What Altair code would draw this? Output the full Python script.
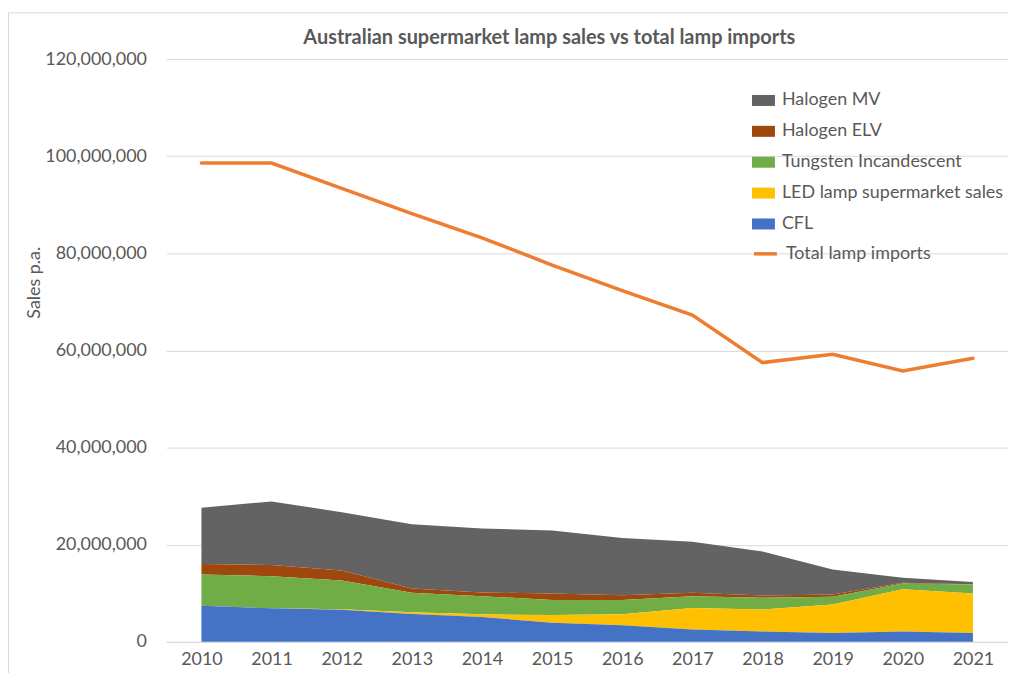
import altair as alt
import pandas as pd

years = list(range(2010, 2022))

# values in millions of lamps
cfl = [7.4, 6.9, 6.6, 5.7, 5.1, 3.9, 3.4, 2.55, 2.1, 1.8, 2.1, 1.8]
led = [0.0, 0.0, 0.1, 0.4, 0.55, 1.6, 2.25, 4.4, 4.55, 5.9, 8.7, 8.15]
tungsten = [6.45, 6.6, 5.9, 4.0, 3.75, 3.1, 2.95, 2.45, 2.4, 1.6, 1.2, 1.85]
halogen_elv = [2.15, 2.3, 2.1, 0.9, 0.75, 1.35, 1.0, 0.7, 0.5, 0.45, 0.15, 0.05]
halogen_mv = [11.6, 13.1, 12.0, 13.2, 13.2, 12.95, 11.8, 10.5, 9.05, 5.15, 1.05, 0.45]
total_imports = [98.6, 98.6, 93.4, 88.2, 83.2, 77.6, 72.3, 67.3, 57.5, 59.2, 55.8, 58.4]

series_names = ["Halogen MV", "Halogen ELV", "Tungsten Incandescent",
                "LED lamp supermarket sales", "CFL"]
series_colors = ["#636363", "#9E480E", "#70AD47", "#FFC000", "#4472C4"]
series_values = [halogen_mv, halogen_elv, tungsten, led, cfl]
line_name = "Total lamp imports"
line_color = "#ED7D31"
title_text = "Australian supermarket lamp sales vs total lamp imports"
y_ticks = [0, 20e6, 40e6, 60e6, 80e6, 100e6, 120e6]

rows = []
for k, (name, vals) in enumerate(zip(series_names, series_values)):
    for y, v in zip(years, vals):
        rows.append({"year": y, "series": name, "value": v * 1e6,
                     "stack_order": len(series_names) - k})
area_df = pd.DataFrame(rows)
line_df = pd.DataFrame({"year": years, "value": [v * 1e6 for v in total_imports],
                        "series": line_name})

FONT = "Lato"
GREY = "#595959"
FS = 18

x_axis = alt.Axis(values=years, format="d", title=None, grid=False,
                  ticks=False, domain=True, domainColor="#d9d9d9",
                  domainWidth=1, labelPadding=9, labelFontSize=FS,
                  labelColor=GREY, labelFont=FONT)
y_axis = alt.Axis(values=y_ticks, format=",.0f", title="Sales p.a.", grid=True,
                  gridColor="#d9d9d9", gridWidth=1, ticks=False,
                  domain=False, labelPadding=20, labelFontSize=FS,
                  labelColor=GREY, labelFont=FONT,
                  titleFont=FONT, titleFontSize=FS, titleColor=GREY,
                  titleFontWeight="normal", titleAngle=-90,
                  titleX=-132, titleY=224, titleAlign="center",
                  titleBaseline="middle")
x_scale = alt.Scale(domain=[2009.5, 2021.5], nice=False, zero=False)
y_scale = alt.Scale(domain=[0, 120e6], nice=False)

areas = alt.Chart(area_df).mark_area(opacity=1).encode(
    x=alt.X("year:Q", scale=x_scale, axis=x_axis),
    y=alt.Y("value:Q", stack="zero", scale=y_scale, axis=y_axis),
    color=alt.Color("series:N",
                    scale=alt.Scale(domain=series_names, range=series_colors),
                    legend=alt.Legend(title=None, orient="none",
                                      legendX=588, legendY=30,
                                      symbolType="M-1,-0.48H1V0.48H-1Z",
                                      symbolSize=529, symbolStrokeWidth=0,
                                      symbolOpacity=1, labelLimit=400,
                                      labelFont=FONT, labelFontSize=FS,
                                      labelColor=GREY, labelOffset=7,
                                      rowPadding=10, padding=0, offset=0)),
    order=alt.Order("stack_order:Q"),
)

line = alt.Chart(line_df).mark_line(strokeWidth=3.5, strokeCap="round").encode(
    x=alt.X("year:Q", scale=x_scale, axis=x_axis),
    y=alt.Y("value:Q", scale=y_scale, axis=y_axis),
    stroke=alt.Stroke("series:N",
                      scale=alt.Scale(domain=[line_name], range=[line_color]),
                      legend=alt.Legend(title=None, orient="none",
                                        legendX=588, legendY=182,
                                        symbolType="stroke", symbolSize=529,
                                        symbolStrokeWidth=3.5, labelLimit=400,
                                        labelFont=FONT, labelFontSize=FS,
                                        labelColor=GREY, labelOffset=7,
                                        padding=0, offset=0)),
)

frame = alt.Chart(alt.Data(values=[{}])).mark_rect(
    fill=None, stroke="#d9d9d9", strokeWidth=1
).encode(x=alt.value(-158.5), x2=alt.value(900),
         y=alt.value(-46.5), y2=alt.value(700))

title = alt.Chart(alt.Data(values=[{"t": title_text}])).mark_text(
    font=FONT, fontSize=20, fontWeight="bold", color=GREY,
    align="center", baseline="middle"
).encode(text="t:N", x=alt.value(384.5), y=alt.value(-21))

chart = alt.layer(frame, areas, line, title).properties(
    width=845, height=585,
    autosize=alt.AutoSizeParams(type="none"),
    padding={"left": 159, "top": 50, "right": 0, "bottom": 30},
).resolve_scale(color="independent").configure_view(stroke=None)

chart.save("out.html", embed_options={"renderer": "svg", "actions": False})
